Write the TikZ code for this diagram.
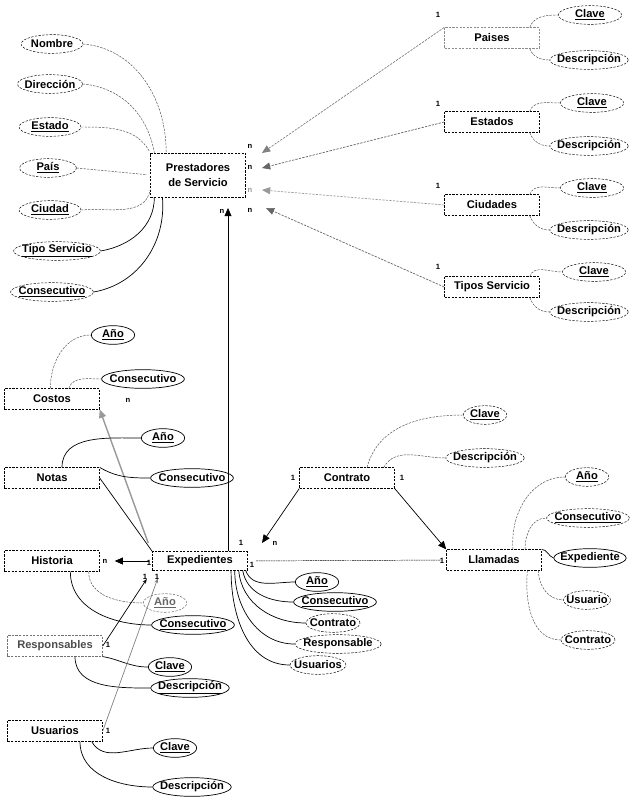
\documentclass[tikz,border=0pt]{standalone}
\usepackage{fontspec}
\setmainfont{Liberation Sans}
\usetikzlibrary{shapes.geometric,arrows.meta}
\newcommand{\pk}[1]{\underline{#1}}

\begin{document}
\begin{tikzpicture}[x=0.03cm,y=-0.03cm,
  font=\fontsize{9.5}{10}\selectfont\bfseries,
  entity/.style={draw, dash pattern=on 2pt off 1pt, minimum width=2.85cm, minimum height=0.62cm, inner sep=1pt},
  attr/.style={draw, ellipse, dash pattern=on 2pt off 1.2pt, inner xsep=-3.5pt, inner ysep=0pt, minimum width=1.3cm, minimum height=0.56cm},
  fattr/.style={attr, solid, semithick},
  attrline/.style={dash pattern=on 2pt off 1pt, black!70},
  tieline/.style={semithick},
  relarrow/.style={semithick, -{Triangle[length=7pt,width=6pt]}},
  card/.style={font=\fontsize{6.5}{7}\selectfont\bfseries, inner sep=0pt}]
\useasboundingbox (0,0) rectangle (630,803);

% Prestadores de Servicio
\node[entity, minimum height=1.32cm, align=center] (prest) at (198,175) {Prestadores\\[3pt]de Servicio};
\node[attr, minimum width=1.85cm] (pnom) at (52,44) {Nombre};
\node[attr, minimum width=1.95cm] (pdir) at (50,84) {Dirección};
\node[attr, minimum width=1.85cm] (pest) at (50,127) {\pk{Estado}};
\node[attr, minimum width=1.7cm] (ppai) at (48,168) {\pk{País}};
\node[attr, minimum width=1.85cm] (pciu) at (50,210) {\pk{Ciudad}};
\node[attr] (ptip) at (57,251) {\pk{Tipo Servicio}};
\node[attr] (pcon) at (52,292) {\pk{Consecutivo}};
\draw[attrline] (pnom.east) to[out=-5,in=90] (prest.145);
\draw[attrline] (pdir.east) to[out=-5,in=100] (prest.153);
\draw[attrline, shorten >=2pt] (pest.east) to[out=0,in=120] (prest.north west);
\draw[attrline, shorten >=3pt] (ppai.east) -- (prest.west);
\draw[attrline] (pciu.east) to[out=5,in=-100] (prest.197);
\draw[tieline] (ptip.east) to[out=10,in=-90] (prest.207);
\draw[tieline] (pcon.east) to[out=10,in=-85] (prest.212);

% catalogos
\node[entity, draw=black!45] (pais) at (492,38) {Paises};
\node[entity] (edos) at (492,122) {Estados};
\node[entity] (ciud) at (492,205) {Ciudades};
\node[entity] (tser) at (492,287) {Tipos Servicio};
\node[attr, minimum width=1.9cm] (paiscl) at (590,15) {\pk{Clave}};
\node[attr] (paisde) at (589,60) {Descripción};
\node[attr, minimum width=1.9cm] (edoscl) at (592,103) {\pk{Clave}};
\node[attr] (edosde) at (589,146) {Descripción};
\node[attr, minimum width=1.9cm] (ciudcl) at (592,188) {\pk{Clave}};
\node[attr] (ciudde) at (589,230) {Descripción};
\node[attr, minimum width=1.9cm] (tsercl) at (594,272) {\pk{Clave}};
\node[attr] (tserde) at (589,312) {Descripción};
\draw[attrline] ([xshift=-0.3cm]pais.north east) to[out=70,in=180] (paiscl.west);
\draw[attrline] ([xshift=-0.3cm]pais.south east) to[out=-70,in=180] (paisde.west);
\draw[attrline] ([xshift=-0.3cm]edos.north east) to[out=70,in=180] (edoscl.west);
\draw[attrline] ([xshift=-0.3cm]edos.south east) to[out=-70,in=180] (edosde.west);
\draw[attrline] ([xshift=-0.3cm]ciud.north east) to[out=70,in=180] (ciudcl.west);
\draw[attrline] ([xshift=-0.3cm]ciud.south east) to[out=-70,in=180] (ciudde.west);
\draw[attrline] ([xshift=-0.3cm]tser.north east) to[out=70,in=180] (tsercl.west);
\draw[attrline] ([xshift=-0.3cm]tser.south east) to[out=-70,in=180] (tserde.west);

\coordinate (tipA) at (262,153);
\coordinate (tipB) at (262,168);
\coordinate (tipC) at (262,190);
\coordinate (tipD) at (266,208);
\draw[relarrow, black!50, dash pattern=on 2pt off 1pt] (pais.north west) -- (tipA);
\draw[relarrow, black!60, dash pattern=on 2pt off 1pt] (edos.west) -- (tipB);
\draw[relarrow, black!40, dash pattern=on 2pt off 1pt] (ciud.west) -- (tipC);
\draw[relarrow, black!60, dash pattern=on 2pt off 1pt] (tser.west) -- (tipD);
\node[card] at (250,146) {n};
\node[card] at (250,167) {n};
\node[card, black!40] at (250,190) {n};
\node[card] at (250,210) {n};
\node[card] at (438,15) {1};
\node[card] at (438,104) {1};
\node[card] at (438,186) {1};
\node[card] at (438,267) {1};

% Expedientes
\node[entity, minimum height=0.56cm] (expe) at (200,561) {Expedientes};
\node[fattr] (expeano) at (317,582) {\pk{Año}};
\node[fattr] (expecon) at (335,602) {\pk{Consecutivo}};
\node[attr] (expectr) at (333,623) {Contrato};
\node[attr] (experes) at (338,644) {Responsable};
\node[attr] (expeusu) at (318,665) {Usuarios};
\draw[tieline] ([xshift=-0.06cm]expe.south east) to[out=-70,in=180] (expeano.west);
\draw[tieline] ([xshift=-0.15cm]expe.south east) to[out=-80,in=180] (expecon.west);
\draw[tieline] ([xshift=-0.27cm]expe.south east) to[out=-85,in=180] (expectr.west);
\draw[tieline] ([xshift=-0.39cm]expe.south east) to[out=-90,in=180] (experes.west);
\draw[tieline] ([xshift=-0.5cm]expe.south east) to[out=-90,in=180] (expeusu.west);

\coordinate (tipE) at (228,208);
\draw[relarrow] (expe.north -| tipE) -- (tipE);
\node[card] at (222,211) {n};

% Costos y Notas
\node[entity] (cost) at (52,399) {Costos};
\node[fattr] (costano) at (113,335) {\pk{Año}};
\node[fattr] (costcon) at (143,379) {Consecutivo};
\draw[attrline] ([xshift=-0.05cm]cost.north) to[out=90,in=180] (costano.west);
\draw[attrline] ([xshift=0.5cm]cost.north) to[out=70,in=180] (costcon.west);
\draw[relarrow, black!40, very thick] ([xshift=-0.12cm,yshift=0.25cm]expe.north west) -- (cost.south east);
\node[card] at (128,400) {n};

\node[entity] (nota) at (52,478) {Notas};
\node[fattr] (notaano) at (163,438) {\pk{Año}};
\node[fattr] (notacon) at (192,478) {Consecutivo};
\draw[tieline] ([xshift=0.3cm]nota.north) to[out=90,in=180] (notaano.west);
\draw[tieline] (nota.north east) to[out=-30,in=180] (notacon.west);
\draw[tieline] (nota.east) -- (expe.north west);

% Historia
\node[entity] (hist) at (52,561) {Historia};
\node[attr, black!60] (histano) at (165,603) {\pk{Año}};
\node[fattr] (histcon) at (193,625) {\pk{Consecutivo}};
\draw[attrline] ([xshift=1.1cm]hist.south) to[out=-90,in=180] (histano.west);
\draw[tieline] ([xshift=0.55cm]hist.south) to[out=-90,in=180] (histcon.west);
\draw[relarrow, shorten >=0.45cm, shorten <=0.1cm] (expe.west) -- (hist.east);
\node[card] at (105,561) {n};
\node[card] at (149,563) {1};

% Responsables y Usuarios
\node[entity, draw=black!55, text=black!70] (resp) at (55,646) {Responsables};
\node[fattr] (respcl) at (170,667) {\pk{Clave}};
\node[fattr] (respde) at (190,688) {\pk{Descripción}};
\draw[tieline] (resp.south east) to[out=-10,in=180] (respcl.west);
\draw[tieline] ([xshift=0.6cm]resp.south) to[out=-90,in=180] (respde.west);
\draw[semithick, -{Stealth[length=4pt]}, shorten >=0.3cm] (resp.east) -- (expe.south west);
\node[card] at (108,645) {1};

\node[entity] (usua) at (55,731) {Usuarios};
\node[fattr] (usuacl) at (175,748) {\pk{Clave}};
\node[fattr] (usuade) at (192,787) {Descripción};
\draw[tieline] ([xshift=1.1cm]usua.south) to[out=-60,in=180] (usuacl.west);
\draw[tieline] ([xshift=0.75cm]usua.south) to[out=-90,in=180] (usuade.west);
\draw[semithick, black!50, -{Stealth[length=4pt]}, shorten >=0.25cm] (usua.east) -- ([xshift=0.25cm]expe.south west);
\node[card] at (108,731) {1};
\node[card] at (145,577) {1};
\node[card] at (157,577) {1};

% Contrato y Llamadas
\node[entity] (cont) at (347,478) {Contrato};
\node[attr] (contcl) at (485,415) {\pk{Clave}};
\node[attr] (contde) at (485,458) {Descripción};
\draw[attrline] ([xshift=0.6cm]cont.north) to[out=75,in=180] (contcl.west);
\draw[attrline] ([xshift=1.1cm]cont.north) to[out=60,in=180] (contde.west);

\node[entity] (llam) at (494,560) {Llamadas};
\node[attr] (llamano) at (587,477) {\pk{Año}};
\node[attr] (llamcon) at (588,518) {\pk{Consecutivo}};
\node[fattr] (llamexp) at (590,558) {Expediente};
\node[attr] (llamusu) at (587,600) {Usuario};
\node[attr] (llamctr) at (588,640) {Contrato};
\draw[attrline] ([xshift=0.57cm]llam.north) to[out=95,in=180] (llamano.west);
\draw[attrline] ([xshift=0.93cm]llam.north) to[out=90,in=180] (llamcon.west);
\draw[tieline] (llam.north east) to[out=0,in=160] (llamexp.west);
\draw[attrline] ([xshift=-0.1cm]llam.south east) to[out=-90,in=180] (llamusu.west);
\draw[attrline] ([xshift=1cm]llam.south) to[out=-95,in=180] (llamctr.west);

\coordinate (tipF) at (262,543);
\draw[relarrow] (cont.south west) -- (tipF);
\draw[relarrow] (cont.south east) -- (llam.north west);
\draw[dash pattern=on 1.5pt off 0.6pt, shorten <=0.25cm, shorten >=0.15cm] (expe.east) -- (llam.west);
\node[card] at (293,478) {1};
\node[card] at (402,478) {1};
\node[card] at (241,543) {1};
\node[card] at (275,543) {n};
\node[card] at (252,565) {1};
\node[card] at (442,561) {1};
\end{tikzpicture}
\end{document}
